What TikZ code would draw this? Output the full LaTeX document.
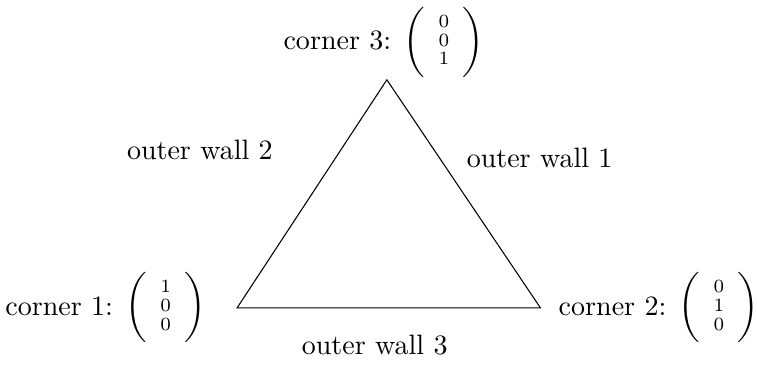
\documentclass[tikz,border=0pt]{standalone}
\usepackage{amsmath}
\newcommand{\cornvec}[3]{$\biggl(\renewcommand{\arraystretch}{0.55}\begin{array}{c}\scriptstyle #1\\ \scriptstyle #2\\ \scriptstyle #3\end{array}\biggr)$}
\begin{document}
\begin{tikzpicture}[lbl/.style={inner sep=0pt, font=\fontsize{10.5}{12.6}\selectfont}]
\useasboundingbox (-3.12,-0.87) rectangle (6.84,4.05);
\coordinate (c1) at (0,0);
\coordinate (c2) at (3.99,0);
\coordinate (c3) at (1.97,3.0);
\draw (c1) -- (c2) -- (c3) -- cycle;
\node[lbl] (n1) at (-1.73,0) {corner 1: \cornvec{1}{0}{0}};
\node[lbl] (n2) at (5.55,0) {corner 2: \cornvec{0}{1}{0}};
\node[lbl] (n3) at (1.93,3.49) {corner 3: \cornvec{0}{0}{1}};
\node[lbl] (w1) at (3.98,1.97) {outer wall 1};
\node[lbl] (w2) at (-0.49,2.08) {outer wall 2};
\node[lbl] (w3) at (1.81,-0.49) {outer wall 3};
\end{tikzpicture}
\end{document}
